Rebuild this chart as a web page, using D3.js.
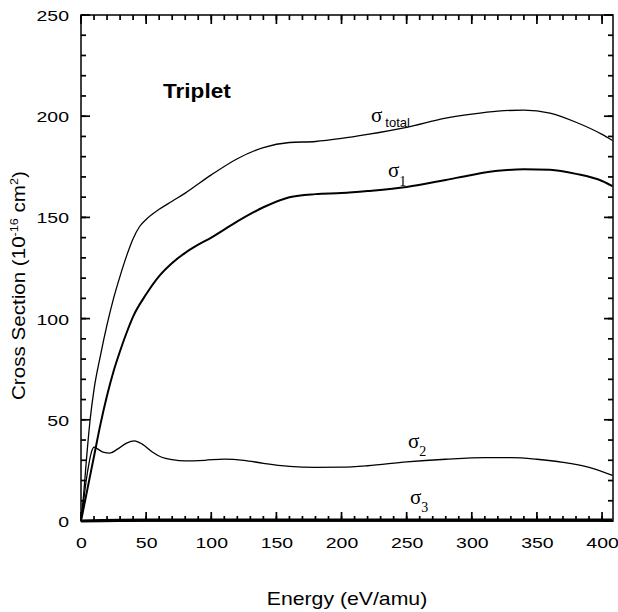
<!DOCTYPE html>
<html>
<head>
<meta charset="utf-8">
<script src="https://cdn.jsdelivr.net/npm/d3@7"></script>
<style>
  body { margin: 0; background: #fff; }
  text, tspan { font-family: "Liberation Sans", Arial, sans-serif; fill: #000; }
  .serif { font-family: "Liberation Serif", "Times New Roman", serif; }
</style>
</head>
<body>
<div class="canvas"></div>
<script>
// margins and dimensions
const w = 618;
const h = 612;
const margin = { top: 15, right: 5, bottom: 91, left: 81 };
const graphWidth = w - margin.left - margin.right;
const graphHeight = h - margin.top - margin.bottom;
const stretch = 1.18; // the original font is a wide Helvetica

// data (energy in eV/amu, cross section in 1e-16 cm2)
const energyTotal = [0, 2, 4, 7, 10, 15, 20, 25, 30, 35, 40, 45, 50, 60, 70, 80, 100, 120, 140, 160, 180, 200, 220, 250, 280, 300, 320, 340, 360, 380, 400, 408];
const sigmaTotal  = [0, 13, 29, 50, 65, 82, 97, 110, 121, 131, 139.5, 145.5, 149, 154, 158, 162, 171, 179, 184.5, 187, 187.5, 189, 191, 194.5, 199, 201, 202.5, 203, 201.5, 197, 191, 188];

const energy1 = [0, 5, 10, 15, 20, 25, 30, 35, 40, 50, 60, 70, 80, 90, 100, 120, 140, 160, 180, 200, 220, 250, 280, 300, 320, 340, 360, 380, 400, 408];
const sigma1  = [0, 16, 32, 48, 62, 74, 84, 93, 101, 112, 121, 127.5, 132.5, 136.5, 140, 148, 155, 160, 161.5, 162, 163, 165, 168.5, 171, 173, 173.8, 173.5, 171.5, 168, 165.5];

const energy2 = [0, 2, 4, 6, 8, 10, 13, 17, 22, 28, 35, 41, 47, 55, 62, 70, 80, 95, 110, 125, 140, 160, 180, 200, 220, 250, 280, 310, 330, 350, 370, 390, 408];
const sigma2  = [0, 10, 20, 28, 34, 36.5, 35.5, 34, 33.5, 35.5, 38.5, 39.6, 38, 34, 31.5, 30.3, 29.7, 30, 30.6, 30, 28.5, 27, 26.5, 26.6, 27.3, 29.2, 30.5, 31.3, 31.3, 30.5, 29, 26.5, 22.5];

const energy3 = [0, 50, 100, 200, 300, 408];
const sigma3  = [0, 0.4, 0.4, 0.4, 0.4, 0.4];

// axis ticks
const xMajor = [0, 50, 100, 150, 200, 250, 300, 350, 400];
const xMinor = d3.range(0, 409, 10);
const yMajor = [0, 50, 100, 150, 200, 250];
const yMinor = d3.range(0, 251, 10);

const svg = d3.select(".canvas").append("svg").attr("width", w).attr("height", h);

const graph = svg.append("g")
  .attr("transform", `translate(${margin.left}, ${margin.top})`);

const xScale = d3.scaleLinear().domain([0, 408.4]).range([0, graphWidth]);
const yScale = d3.scaleLinear().domain([0, 250]).range([graphHeight, 0]);

// frame
graph.append("rect")
  .attr("width", graphWidth).attr("height", graphHeight)
  .attr("fill", "none").attr("stroke", "#000").attr("stroke-width", 1.5);

// inward ticks on all four sides
const tw = 1.7; // tick thickness
function tickRects(vals, len, horizontal) {
  vals.forEach(v => {
    if (horizontal) {
      const x = xScale(v);
      graph.append("rect").attr("x", x - tw / 2).attr("y", graphHeight - len).attr("width", tw).attr("height", len).attr("fill", "#000");
      graph.append("rect").attr("x", x - tw / 2).attr("y", 0).attr("width", tw).attr("height", len).attr("fill", "#000");
    } else {
      const y = yScale(v);
      graph.append("rect").attr("x", 0).attr("y", y - tw / 2).attr("width", len).attr("height", tw).attr("fill", "#000");
      graph.append("rect").attr("x", graphWidth - len).attr("y", y - tw / 2).attr("width", len).attr("height", tw).attr("fill", "#000");
    }
  });
}
tickRects(xMinor, 5, true);
tickRects(xMajor, 9, true);
tickRects(yMinor, 5, false);
tickRects(yMajor, 9, false);

// tick labels
const xAxis = graph.append("g")
  .attr("transform", `translate(0, ${graphHeight})`)
  .call(d3.axisBottom(xScale).tickValues(xMajor).tickSize(0));
xAxis.select(".domain").remove();
xAxis.selectAll("text")
  .attr("y", 0).attr("dy", null)
  .attr("transform", `translate(0, 27) scale(${stretch * 1.1}, 1)`)
  .style("font-size", "15px");

const yAxis = graph.append("g")
  .call(d3.axisLeft(yScale).tickValues(yMajor).tickSize(0));
yAxis.select(".domain").remove();
yAxis.selectAll("text")
  .attr("x", 0).attr("dy", null)
  .attr("transform", `translate(-12, 5.5) scale(${stretch * 1.1}, 1)`)
  .style("font-size", "15px");

// curves
const line = d3.line()
  .x(d => xScale(d[0]))
  .y(d => yScale(d[1]))
  .curve(d3.curveMonotoneX);

const curves = [
  { e: energyTotal, s: sigmaTotal, width: 1.3 },
  { e: energy1, s: sigma1, width: 2 },
  { e: energy2, s: sigma2, width: 1.3 },
  { e: energy3, s: sigma3, width: 3.2 }
];
curves.forEach(c => {
  graph.append("path")
    .datum(c.e.map((x, i) => [x, c.s[i]]))
    .attr("d", line)
    .attr("fill", "none")
    .attr("stroke", "#000")
    .attr("stroke-width", c.width);
});

// curve labels
function sigmaLabel(x, y, sub, subDx, subDy, subSerif) {
  const t = svg.append("text").attr("x", x).attr("y", y).style("fill", "#000");
  t.append("tspan").attr("class", "serif").style("font-size", "21px").text("σ");
  t.append("tspan")
    .attr("class", subSerif ? "serif" : null)
    .attr("dx", subDx).attr("dy", subDy)
    .style("font-size", subSerif ? "14px" : "13px")
    .style("fill", "#000")
    .text(sub);
}
sigmaLabel(371, 122, "total", 3, 5, false);
sigmaLabel(388, 177, "1", 0, 9, true);
sigmaLabel(408, 448, "2", 0, 8, true);
sigmaLabel(410, 504, "3", 0, 8, true);

// "Triplet" tag
svg.append("text")
  .attr("transform", `translate(163, 97.5) scale(1.13, 1)`)
  .style("font-size", "20px")
  .style("font-weight", "bold")
  .text("Triplet");

// axis titles
svg.append("text")
  .attr("transform", `translate(347, 605) scale(${stretch}, 1)`)
  .attr("text-anchor", "middle")
  .style("font-size", "18px")
  .text("Energy (eV/amu)");

const yTitle = svg.append("text")
  .attr("transform", `translate(25, 400) rotate(-90) scale(${stretch * 0.97}, 1)`)
  .style("font-size", "18px");
yTitle.append("tspan").text("Cross Section  (10");
yTitle.append("tspan").attr("dy", -7).style("font-size", "11px").text("-16");
yTitle.append("tspan").attr("dy", 7).text(" cm");
yTitle.append("tspan").attr("dy", -7).style("font-size", "11px").text("2");
yTitle.append("tspan").attr("dy", 7).text(")");
</script>
</body>
</html>
